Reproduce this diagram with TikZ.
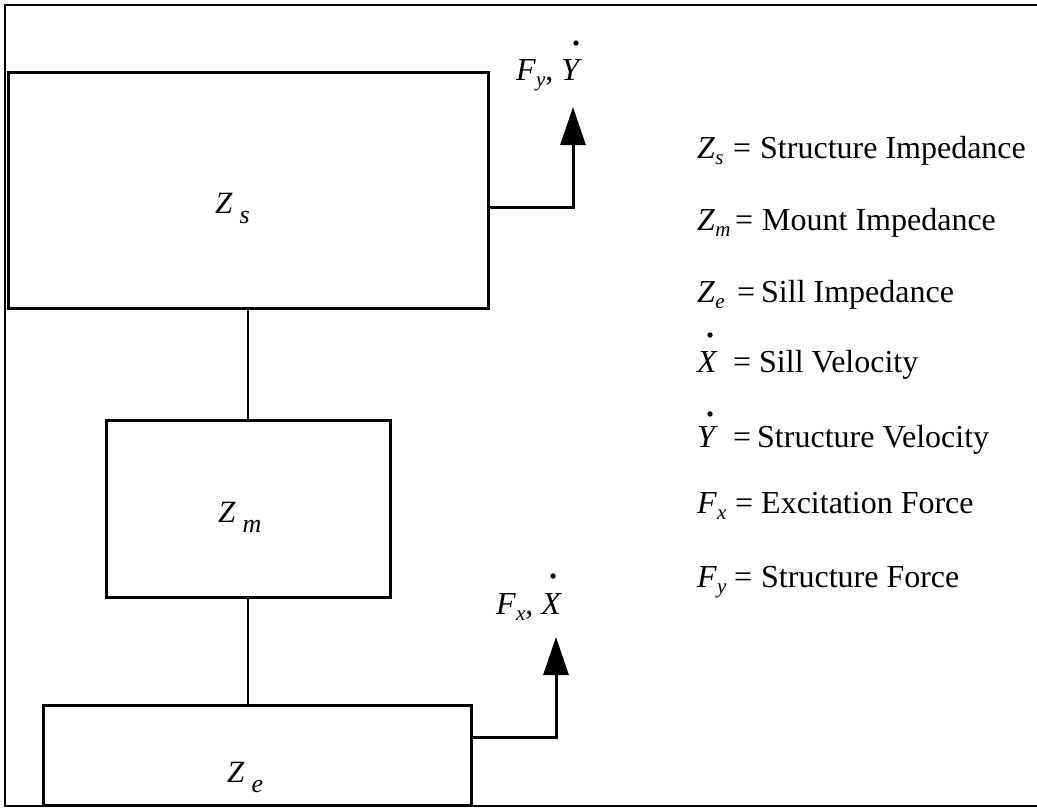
\documentclass[tikz,border=0pt]{standalone}
\usepackage{fontspec}
\setmainfont{Liberation Serif}
\usetikzlibrary{arrows.meta}
% symbol with a lowered italic subscript
\newcommand\symsub[2]{\textit{#1}\raisebox{-6pt}{\fontsize{21}{21}\selectfont\textit{#2}}}
% box label: large Z with a widely spaced, deeply lowered subscript
\newcommand\boxsub[2]{\textit{#1}\hspace{7pt}\raisebox{-10pt}{\fontsize{26}{26}\selectfont\textit{#2}}}
\begin{document}
\begin{tikzpicture}[x=1pt,y=-1pt,
  blk/.style={draw, line width=3pt, inner sep=0pt},
  wire/.style={line width=2.4pt},
  push/.style={line width=3pt, -{Triangle[length=38pt,width=25pt]}},
  frame/.style={line width=2.6pt},
  txt/.style={anchor=base west, inner sep=0pt, font=\fontsize{32}{36}\selectfont},
  boxlbl/.style={anchor=base west, inner sep=0pt, font=\fontsize{31}{34}\selectfont},
  vdot/.style={fill=black}]
\useasboundingbox (0,0) rectangle (1037,809);

% outer frame, open on the right
\draw[frame] (1045,5) -- (5,5) -- (5,806) -- (1045,806);

% impedance blocks
\node[blk, minimum width=480pt, minimum height=236pt] (zs) at (248,190) {};
\node[blk, minimum width=284pt, minimum height=177pt] (zm) at (248,508.5) {};
\node[blk, minimum width=428pt, minimum height=100pt] (ze) at (257,755) {};

\node[boxlbl] (zsl) at (215,213) {\boxsub{Z}{s}};
\node[boxlbl] (zml) at (218,522) {\boxsub{Z}{m}};
\node[boxlbl] (zel) at (227,782) {\boxsub{Z}{e}};

% links between the blocks
\draw[wire] (zs.south) -- (zm.north);
\draw[wire] (zm.south) -- (zm.south |- ze.north);

% force / velocity outputs
\coordinate (ybend) at (573,207);
\coordinate (ytip) at (573,107);
\draw[push] (zs.east |- ybend) -- (ybend) -- (ytip);

\coordinate (xbend) at (556,737);
\coordinate (xtip) at (556,637);
\draw[push] (ze.east |- xbend) -- (xbend) -- (xtip);

\node[txt] (fyl) at (516,80) {\symsub{F}{y}, \textit{Y}};
\fill[vdot] (576,43) circle (2.7);
\node[txt] (fxl) at (496,614) {\symsub{F}{x}, \textit{X}};
\fill[vdot] (553,576) circle (2.7);

% legend
\node[txt] (s1) at (697,158) {\symsub{Z}{s}};
\node[txt] (e1) at (733,158) {=};
\node[txt] (t1) at (760,158) {Structure Impedance};

\node[txt] (s2) at (697,230) {\symsub{Z}{m}};
\node[txt] (e2) at (735,230) {=};
\node[txt] (t2) at (762,230) {Mount Impedance};

\node[txt] (s3) at (697,302) {\symsub{Z}{e}};
\node[txt] (e3) at (737,302) {=};
\node[txt] (t3) at (761,302) {Sill Impedance};

\node[txt] (s4) at (697,372) {\textit{X}};
\fill[vdot] (710,335) circle (2.7);
\node[txt] (e4) at (733,372) {=};
\node[txt] (t4) at (759,372) {Sill Velocity};

\node[txt] (s5) at (697,447) {\textit{Y}};
\fill[vdot] (710,414) circle (2.7);
\node[txt] (e5) at (733,447) {=};
\node[txt] (t5) at (757,447) {Structure Velocity};

\node[txt] (s6) at (697,513) {\symsub{F}{x}};
\node[txt] (e6) at (735,513) {=};
\node[txt] (t6) at (761,513) {Excitation Force};

\node[txt] (s7) at (697,587) {\symsub{F}{y}};
\node[txt] (e7) at (734,587) {=};
\node[txt] (t7) at (761,587) {Structure Force};
\end{tikzpicture}
\end{document}
